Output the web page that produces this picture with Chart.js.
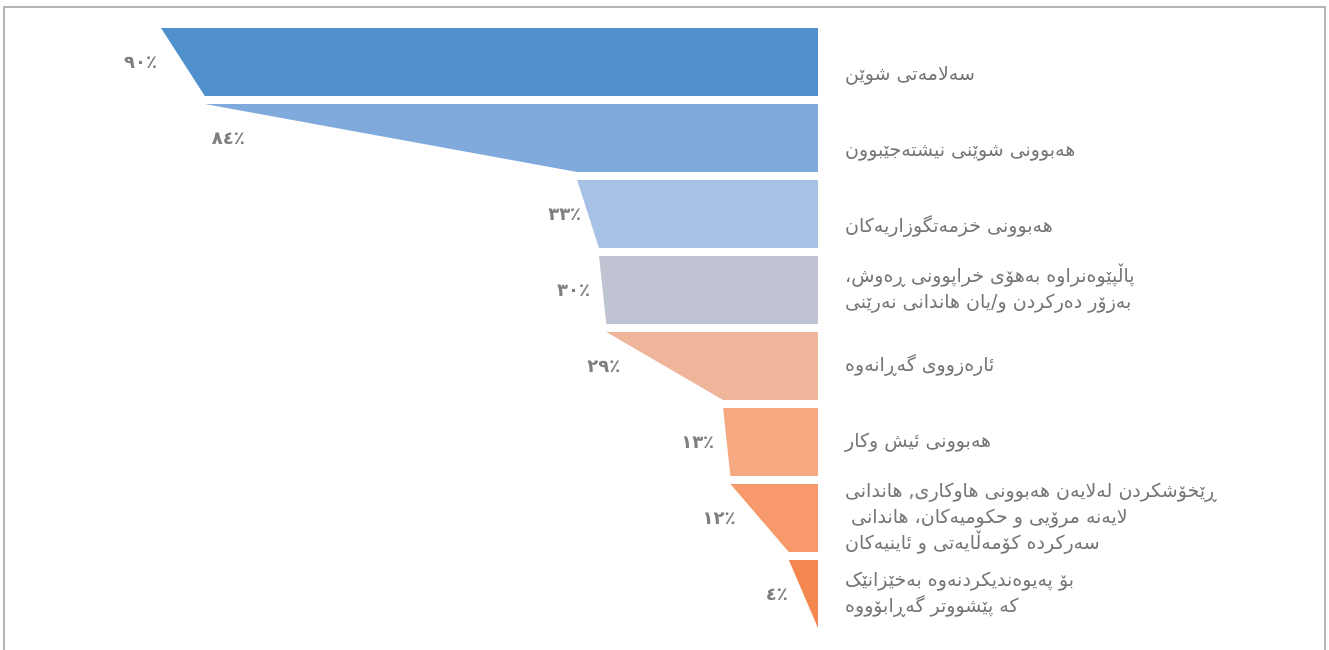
<!DOCTYPE html>
<html><head><meta charset="utf-8">
<script src="https://cdn.jsdelivr.net/npm/chart.js@4.4.0/dist/chart.umd.min.js"></script>
<style>
html,body{margin:0;padding:0;background:#fff;overflow:hidden;}
#frame{position:absolute;left:3px;top:6px;width:1323px;height:700px;border:2px solid #b5b5b5;box-sizing:border-box;}
#c{position:absolute;left:0;top:0;}
</style></head><body>
<div id="frame"></div>
<canvas id="c" width="1329" height="650"></canvas>
<script>
// ---- data ----
const categories = [
  ['', 'سەلامەتی شوێن'],
  ['', 'هەبوونی شوێنی نیشتەجێبوون'],
  ['', 'هەبوونی خزمەتگوزاریەکان'],
  ['پاڵپێوەنراوە بەهۆی خراپوونی ڕەوش،', 'بەزۆر دەرکردن و/یان هاندانی نەرێنی'],
  ['ئارەزووی گەڕانەوە'],
  ['هەبوونی ئیش وکار'],
  ['ڕێخۆشکردن لەلایەن هەبوونی هاوکاری, هاندانی', 'لایەنە مرۆیی و حکومیەکان، هاندانی ', 'سەرکردە کۆمەڵایەتی و ئاینیەکان'],
  ['بۆ پەیوەندیکردنەوە بەخێزانێک', 'کە پێشووتر گەڕابۆووە']
];
const values = [90, 84, 33, 30, 29, 13, 12, 4];
const valueLabels = ['٩٠٪', '٨٤٪', '٣٣٪', '٣٠٪', '٢٩٪', '١٣٪', '١٢٪', '٤٪'];

// ---- styles ----
const colors = ['#4f90cd', '#7faadb', '#a8c2e6', '#bfc2d0', '#efb59b', '#f7a981', '#f7996a', '#f4874f'];
const valueLabelNudgeX = [-4, 40, 4, -9, 14, -9, 5, -1];

const funnelPlugin = {
  id: 'funnel',
  afterDatasetsDraw(chart) {
    const ctx = chart.ctx;
    const xs = chart.scales.x;
    const meta = chart.getDatasetMeta(0);
    meta.data.forEach((bar, i) => {
      const p = bar.getProps(['x', 'y', 'base', 'height'], true);
      const top = p.y - p.height / 2, bot = p.y + p.height / 2;
      const next = i + 1 < values.length ? values[i + 1] : 0;
      const xb = xs.getPixelForValue(next);
      ctx.save();
      ctx.fillStyle = colors[i];
      ctx.beginPath();
      ctx.moveTo(p.base, top);
      ctx.lineTo(p.x, top);
      ctx.lineTo(xb, bot);
      ctx.lineTo(p.base, bot);
      ctx.closePath();
      ctx.fill();
      ctx.restore();

      // value label
      ctx.save();
      ctx.font = 'bold 18px "DejaVu Sans"';
      ctx.fillStyle = '#7f7f7f';
      ctx.textAlign = 'right';
      ctx.textBaseline = 'middle';
      ctx.fillText(valueLabels[i], p.x + valueLabelNudgeX[i], p.y + 1);
      ctx.restore();

      // category label
      const lines = chart.data.labels[i];
      const lh = 26;
      ctx.save();
      ctx.direction = 'rtl';
      ctx.font = '19px "DejaVu Sans"';
      ctx.fillStyle = '#767676';
      ctx.textAlign = 'left';
      ctx.textBaseline = 'middle';
      const y0 = p.y - (lines.length - 1) * lh / 2;
      lines.forEach((ln, k) => {
        if (ln) ctx.fillText(ln, p.base + 27, y0 + k * lh);
      });
      ctx.restore();
    });
  }
};

new Chart(document.getElementById('c'), {
  type: 'bar',
  data: {
    labels: categories,
    datasets: [{
      data: values,
      backgroundColor: 'rgba(0,0,0,0)',
      borderWidth: 0,
      barPercentage: 1,
      categoryPercentage: 68 / 76
    }]
  },
  options: {
    indexAxis: 'y',
    responsive: false,
    animation: false,
    layout: { padding: { left: 88, right: 511, top: 24, bottom: 18 } },
    scales: {
      x: { type: 'linear', min: 0, max: 100, reverse: true, display: false },
      y: { display: false }
    },
    plugins: { legend: { display: false }, tooltip: { enabled: false } }
  },
  plugins: [funnelPlugin]
});
</script>
</body></html>
